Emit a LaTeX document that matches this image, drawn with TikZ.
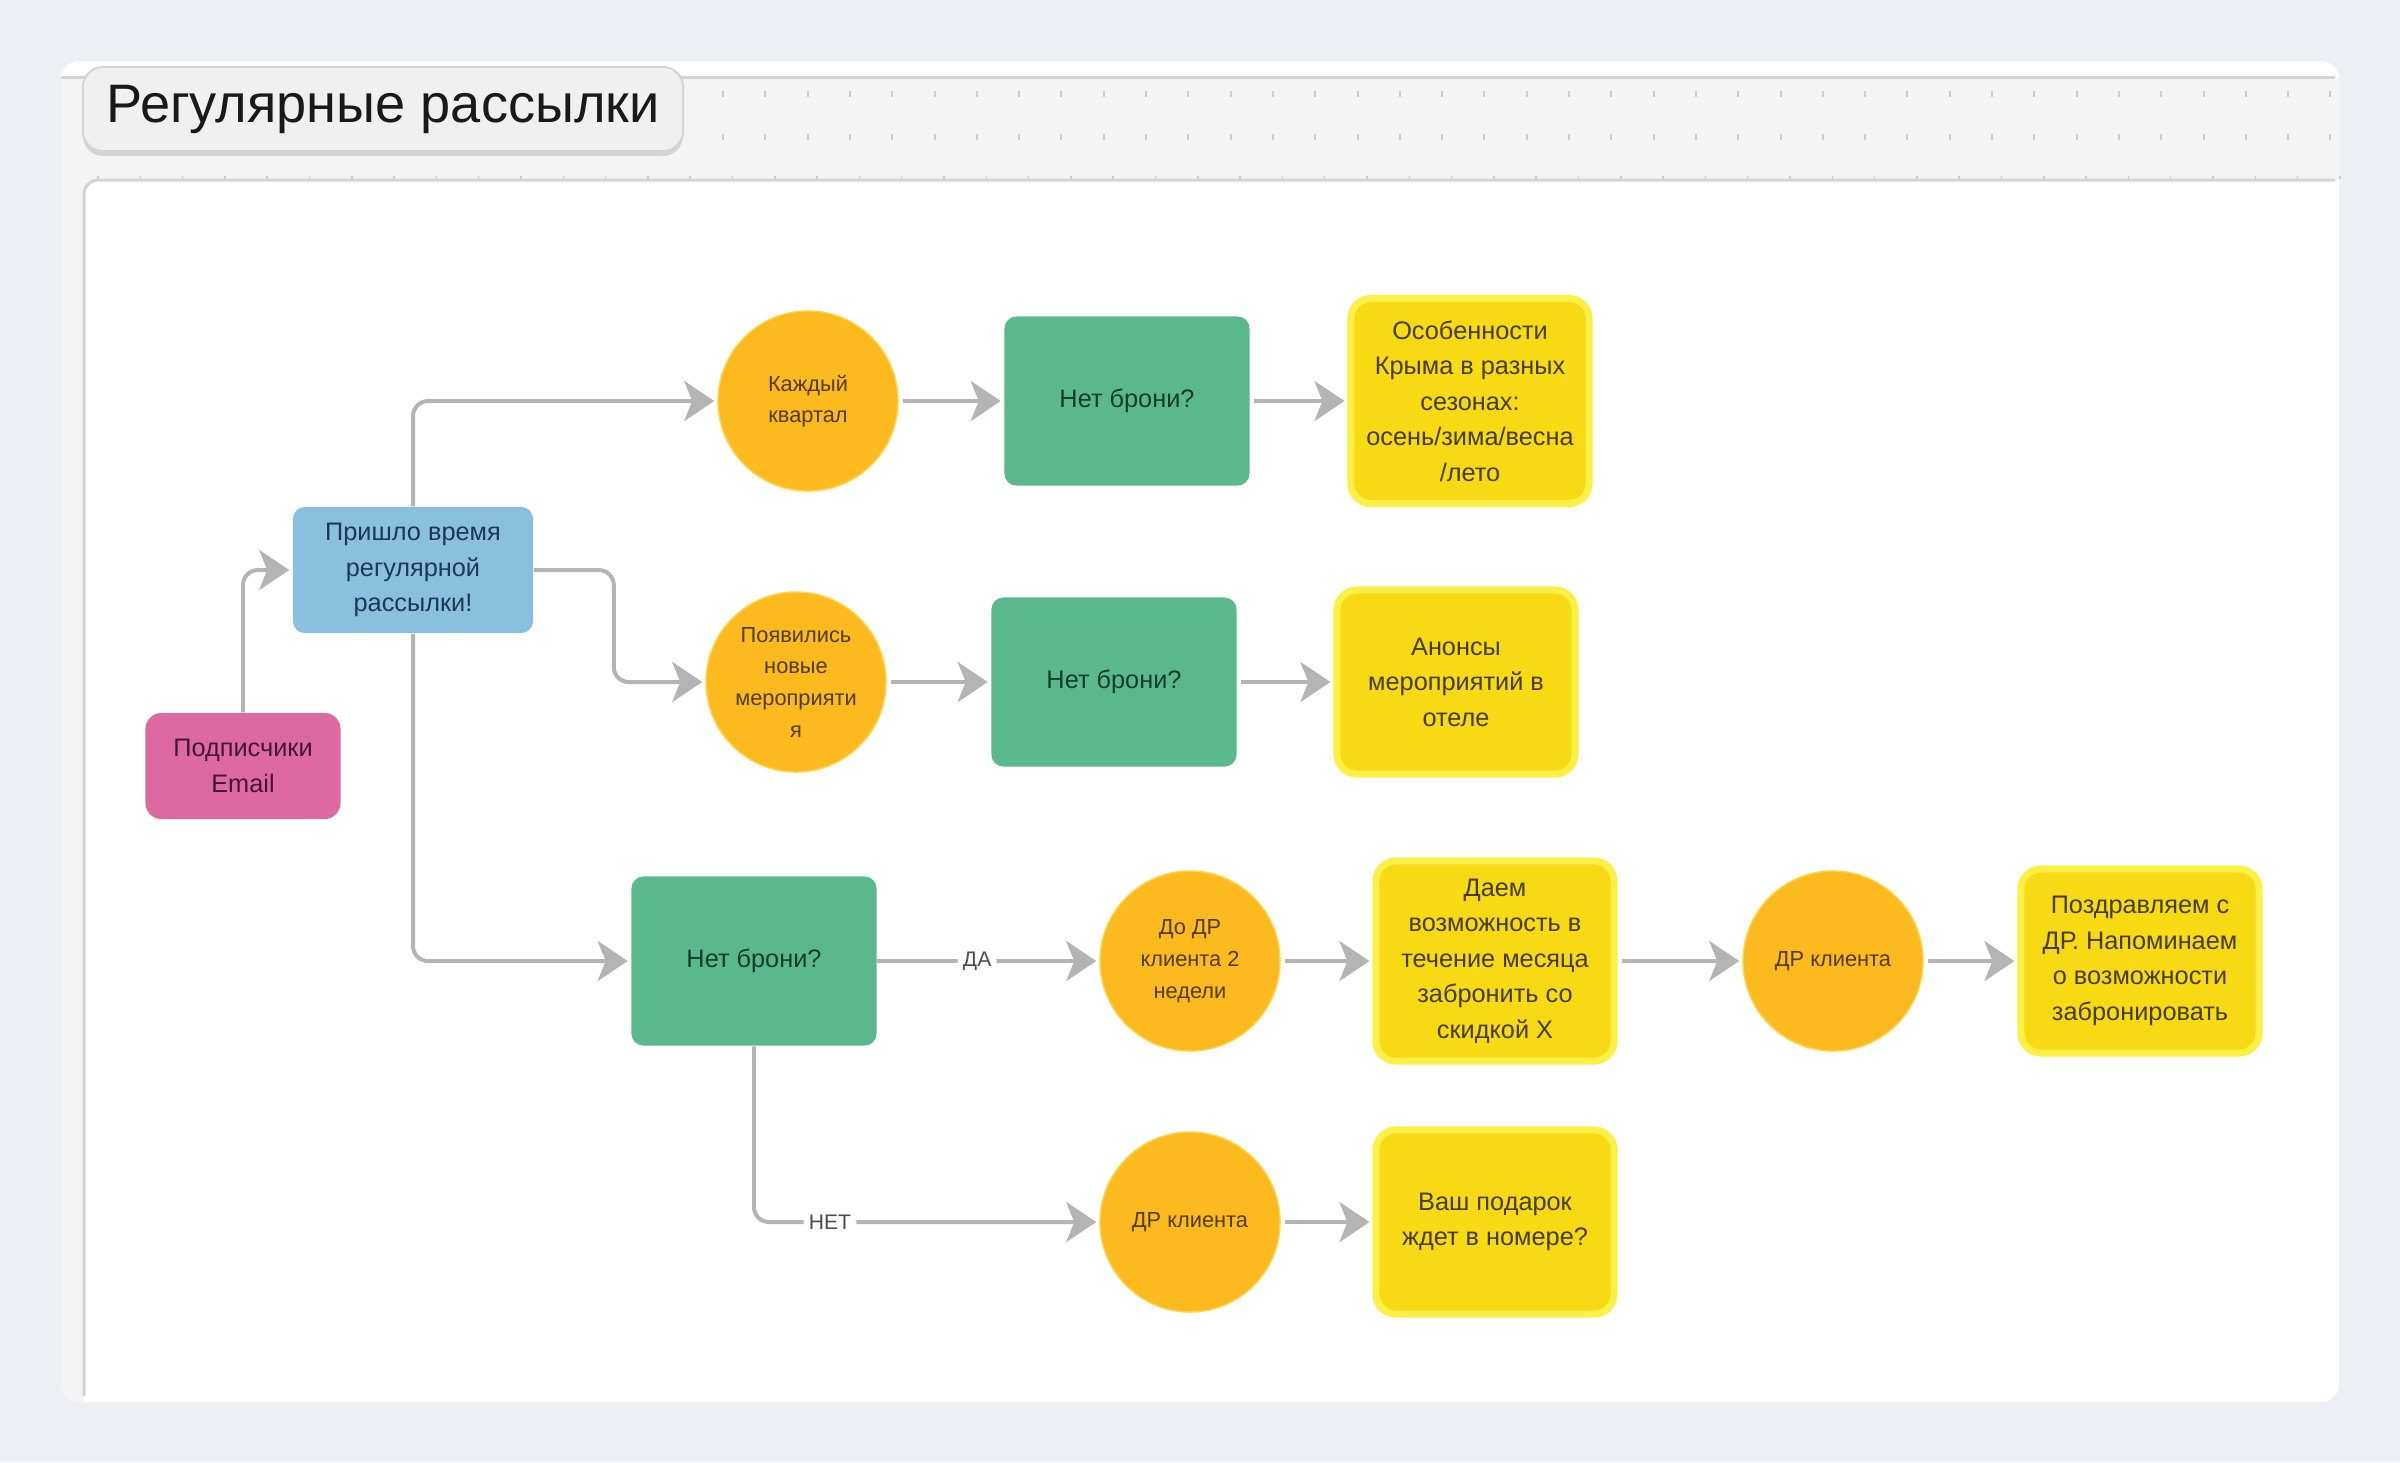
\documentclass[tikz,border=0pt]{standalone}
\usepackage{fontspec}
\setmainfont{Liberation Sans}
\usepackage{xcolor}
\usepackage{tikz}
\usetikzlibrary{arrows.meta}
\definecolor{canvasbg}{RGB}{236,239,244}
\definecolor{bandgray}{RGB}{244,244,244}
\definecolor{frameline}{RGB}{212,212,212}
\definecolor{dotgray}{RGB}{205,205,205}
\definecolor{titlefill}{RGB}{240,240,240}
\definecolor{subpink}{RGB}{220,106,160}
\definecolor{timeblue}{RGB}{138,192,223}
\definecolor{checkgreen}{RGB}{90,185,140}
\definecolor{eventorange}{RGB}{253,186,30}
\definecolor{eventrim}{RGB}{255,214,80}
\definecolor{offeryellow}{RGB}{248,218,20}
\definecolor{offerrim}{RGB}{252,240,70}
\definecolor{linkgray}{RGB}{180,180,180}
\definecolor{pinktext}{RGB}{70,20,55}
\definecolor{bluetext}{RGB}{30,55,85}
\definecolor{greentext}{RGB}{20,60,45}
\definecolor{orangetext}{RGB}{80,60,10}
\definecolor{yellowtext}{RGB}{70,60,0}
\newcommand{\boxfont}{\fontsize{7.2pt}{10.1pt}\selectfont}
\newcommand{\roundfont}{\fontsize{6.2pt}{9pt}\selectfont}

\begin{document}
\begin{tikzpicture}[x=0.01cm, y=-0.01cm,
  >={Stealth[length=0.3cm,width=0.4cm,inset=0.08cm]},
  pinkbox/.style={rectangle, rounded corners=0.16cm, fill=subpink, text=pinktext, font=\boxfont, align=center, minimum width=1.95cm, minimum height=1.06cm},
  bluebox/.style={rectangle, rounded corners=0.12cm, fill=timeblue, text=bluetext, font=\boxfont, align=center, minimum width=2.4cm, minimum height=1.26cm},
  greenbox/.style={rectangle, rounded corners=0.12cm, fill=checkgreen, text=greentext, font=\boxfont, align=center, minimum width=2.45cm, minimum height=1.69cm},
  yellowbox/.style={rectangle, rounded corners=0.2cm, fill=offeryellow, draw=offerrim, line width=0.07cm, text=yellowtext, font=\boxfont, align=center, minimum width=2.38cm},
  roundnode/.style={circle, fill=eventorange, draw=eventrim, line width=0.4pt, text=orangetext, font=\roundfont, align=center, minimum size=1.8cm, inner sep=0pt},
  link/.style={draw=linkgray, line width=0.04cm, ->, rounded corners=0.15cm, shorten <=0.04cm, shorten >=0.03cm},
  boxlink/.style={link, shorten <=0pt},
  edgelabel/.style={fill=white, text=black!70, font=\fontsize{6pt}{7pt}\selectfont, inner sep=1.5pt}]

\useasboundingbox (0,0) rectangle (2400,1462);

% ==========================================
% BOARD: card, header band, frame
% ==========================================
\fill[canvasbg] (0,0) rectangle (2400,1462);
\fill[white, rounded corners=0.18cm] (61,61) rectangle (2339,1402);

\begin{scope}
    \clip[rounded corners=0.18cm] (61,61) rectangle (2339,1402);
    % grey band on top and left
    \fill[bandgray] (61,77) rectangle (2339,1402);
    % white working area
    \fill[white, rounded corners=0.14cm] (84,180) rectangle (2400,1462);
\end{scope}

% header lines
\draw[frameline, line width=0.03cm] (61,77) -- (2335,77);
\draw[frameline, line width=0.03cm, rounded corners=0.14cm] (2335,180) -- (84,180) -- (84,1396);

% dotted grid of the header
\foreach \i in {0,...,38} {
    \draw[dotgray, line width=0.02cm] (723+42.3*\i,91) -- ++(0,6);
    \draw[dotgray, line width=0.02cm] (723+42.3*\i,134) -- ++(0,6);
}
\foreach \i in {0,...,53}
    \draw[dotgray, line width=0.015cm] (98+42.3*\i,176) -- ++(0,3);

% title tab (with a soft bottom edge)
\fill[frameline, rounded corners=0.2cm] (83,70) rectangle (683,156);
\node[rectangle, rounded corners=0.2cm, fill=titlefill, draw=frameline, line width=0.02cm,
      minimum width=6cm, minimum height=0.84cm, font=\fontsize{15.4pt}{18pt}\selectfont, text=black!90]
      (title) at (383,109) {Регулярные рассылки};

% ==========================================
% NODES
% ==========================================
% start
\node[pinkbox] (subs) at (243,766) {Подписчики\\Email};
\node[bluebox] (regtime) at (413,570) {Пришло время\\регулярной\\рассылки!};

% row 1: every quarter
\node[roundnode] (quarter) at (808,401) {Каждый\\квартал};
\node[greenbox] (nobook1) at (1127,401) {Нет брони?};
\node[yellowbox, minimum height=2.05cm] (seasons) at (1470,401) {Особенности\\Крыма в разных\\сезонах:\\осень/зима/весна\\/лето};

% row 2: new events
\node[roundnode] (events) at (796,682) {Появились\\новые\\мероприяти\\я};
\node[greenbox] (nobook2) at (1114,682) {Нет брони?};
\node[yellowbox, minimum height=1.84cm] (news) at (1456,682) {Анонсы\\мероприятий в\\отеле};

% row 3: birthday
\node[greenbox] (nobook3) at (754,961) {Нет брони?};
\node[roundnode] (bdaysoon) at (1190,961) {До ДР\\клиента 2\\недели};
\node[yellowbox, minimum height=2.0cm] (discount) at (1495,961) {Даем\\возможность в\\течение месяца\\забронить со\\скидкой Х};
\node[roundnode] (bdayone) at (1833,961) {ДР клиента};
\node[yellowbox, minimum height=1.84cm] (congrats) at (2140,961) {Поздравляем с\\ДР. Напоминаем\\о возможности\\забронировать};

% row 4: birthday, booked
\node[roundnode] (bdaytwo) at (1190,1222) {ДР клиента};
\node[yellowbox, minimum height=1.84cm] (gift) at (1495,1222) {Ваш подарок\\ждет в номере?};

% ==========================================
% CONNECTORS
% ==========================================
\draw[boxlink] (subs.north) |- (regtime.west);
\draw[boxlink] (regtime.north) |- (quarter.west);
\draw[boxlink] (regtime.east) -- ++(80,0) |- (events.west);
\draw[boxlink] (regtime.south) |- (nobook3.west);

\draw[link] (quarter.east) -- (nobook1.west);
\draw[link] (nobook1.east) -- (seasons.west);

\draw[link] (events.east) -- (nobook2.west);
\draw[link] (nobook2.east) -- (news.west);

\draw[boxlink] (nobook3.east) -- node[edgelabel, pos=0.45] {ДА} (bdaysoon.west);
\draw[link] (bdaysoon.east) -- (discount.west);
\draw[link] (discount.east) -- (bdayone.west);
\draw[link] (bdayone.east) -- (congrats.west);

\draw[boxlink] (nobook3.south) |- node[edgelabel, pos=0.61] {НЕТ} (bdaytwo.west);
\draw[link] (bdaytwo.east) -- (gift.west);

\end{tikzpicture}
\end{document}
